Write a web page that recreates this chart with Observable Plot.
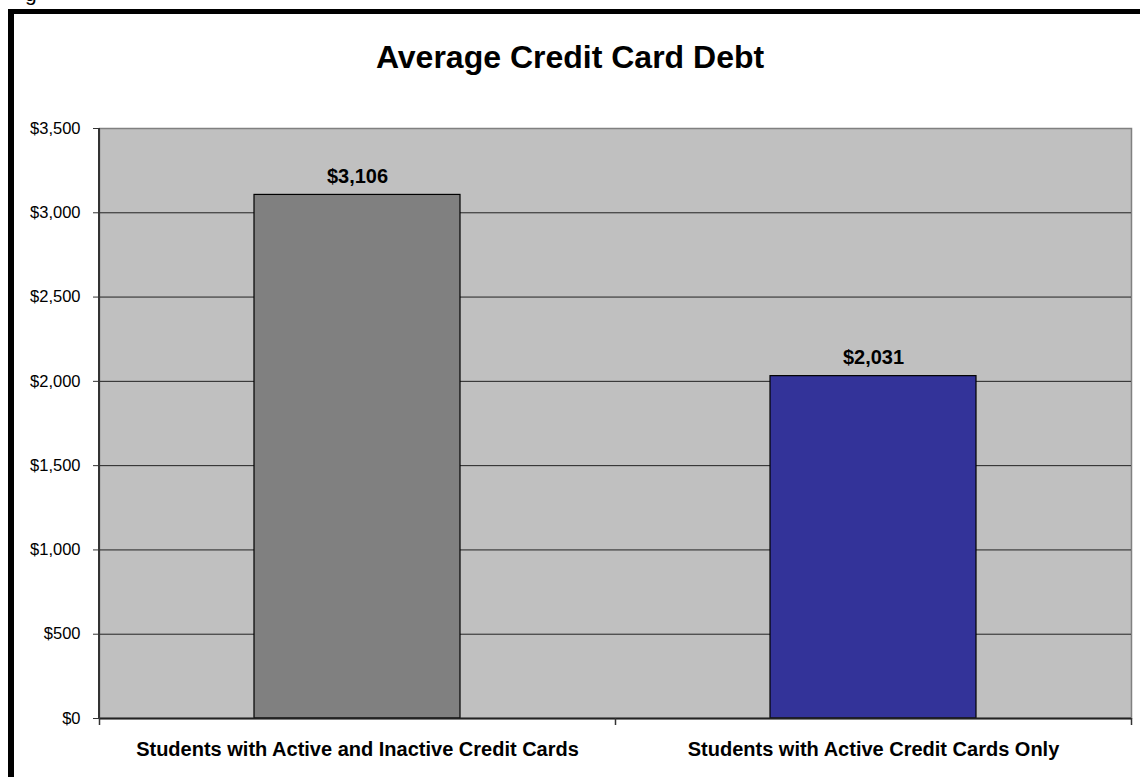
<!DOCTYPE html>
<html>
<head>
<meta charset="utf-8">
<script src="https://cdn.jsdelivr.net/npm/d3@7"></script>
<script src="https://cdn.jsdelivr.net/npm/@observablehq/plot@0.6"></script>
<style>
  html, body { margin: 0; padding: 0; background: #fff; }
  #page { position: relative; width: 1140px; height: 777px; overflow: hidden; font-family: "Liberation Sans", Arial, sans-serif; }
  #frame { position: absolute; left: 8px; top: 9px; width: 1200px; height: 800px; border-left: 6px solid #000; border-top: 5px solid #000; }
  #frag { position: absolute; left: 25px; top: -16px; font-size: 21px; line-height: 20px; color: #000; }
  #title { position: absolute; left: 0; top: 39px; width: 1140px; text-align: center; font-size: 32px; font-weight: bold; line-height: 36px; color: #000; }
  #chart { position: absolute; left: 0; top: 0; }
</style>
</head>
<body>
<div id="page">
  <div id="frame"></div>
  <div id="frag">g</div>
  <div id="title">Average Credit Card Debt</div>
  <div id="chart"></div>
</div>
<script>
const categories = ["Students with Active and Inactive Credit Cards", "Students with Active Credit Cards Only"];
const debts = [3106, 2031];
const barColors = ["#808080", "#333399"];
const yTicks = [0, 500, 1000, 1500, 2000, 2500, 3000, 3500];

const data = categories.map((c, i) => ({category: c, value: debts[i], color: barColors[i]}));
const money = d3.format("$,");

// category boundary ticks and left axis line, placed from the plot's own layout
function axisDecor(index, scales, values, dims) {
  const g = d3.create("svg:g");
  const x0 = dims.marginLeft, x1 = dims.width - dims.marginRight;
  const yB = dims.height - dims.marginBottom, yT = dims.marginTop;
  const n = categories.length;
  for (let i = 0; i <= n; i++) {
    const x = Math.round(x0 + i * (x1 - x0) / n) + 0.5;
    g.append("line").attr("x1", x).attr("x2", x).attr("y1", yB).attr("y2", yB + 7)
      .attr("stroke", "#333").attr("stroke-width", 1.5);
  }
  g.append("line").attr("x1", x0).attr("x2", x0).attr("y1", yT).attr("y2", yB)
    .attr("stroke", "#333").attr("stroke-width", 2);
  return g.node();
}

const chart = Plot.plot({
  width: 1140,
  height: 777,
  marginTop: 128,
  marginBottom: 59,
  marginLeft: 99,
  marginRight: 9,
  style: {fontFamily: "'Liberation Sans', Arial, sans-serif", color: "#000", background: "transparent", overflow: "visible"},
  x: {domain: categories, paddingInner: 0.6, paddingOuter: 0.3, label: null},
  y: {domain: [0, 3500], label: null},
  color: {type: "identity"},
  marks: [
    Plot.frame({fill: "#C0C0C0", stroke: "#808080", strokeWidth: 1.5}),
    Plot.ruleY(yTicks.filter(t => t > 0 && t < 3500), {stroke: "#222", strokeWidth: 1}),
    Plot.barY(data, {x: "category", y: "value", fill: "color", stroke: "#000", strokeWidth: 1.2}),
    Plot.text(data, {x: "category", y: "value", text: d => money(d.value), lineAnchor: "bottom", dy: -12, fontWeight: "bold", fontSize: 20, fill: "#000"}),
    Plot.ruleY([0], {stroke: "#222", strokeWidth: 2}),
    axisDecor,
    Plot.axisY({ticks: yTicks, tickFormat: money, tickSize: 6, tickPadding: 13, fontSize: 16.5, stroke: "#333", label: null}),
    Plot.axisX({tickSize: 0, tickPadding: 23, fontSize: 20, fontWeight: "bold", label: null})
  ]
});
document.getElementById("chart").appendChild(chart);
</script>
</body>
</html>
